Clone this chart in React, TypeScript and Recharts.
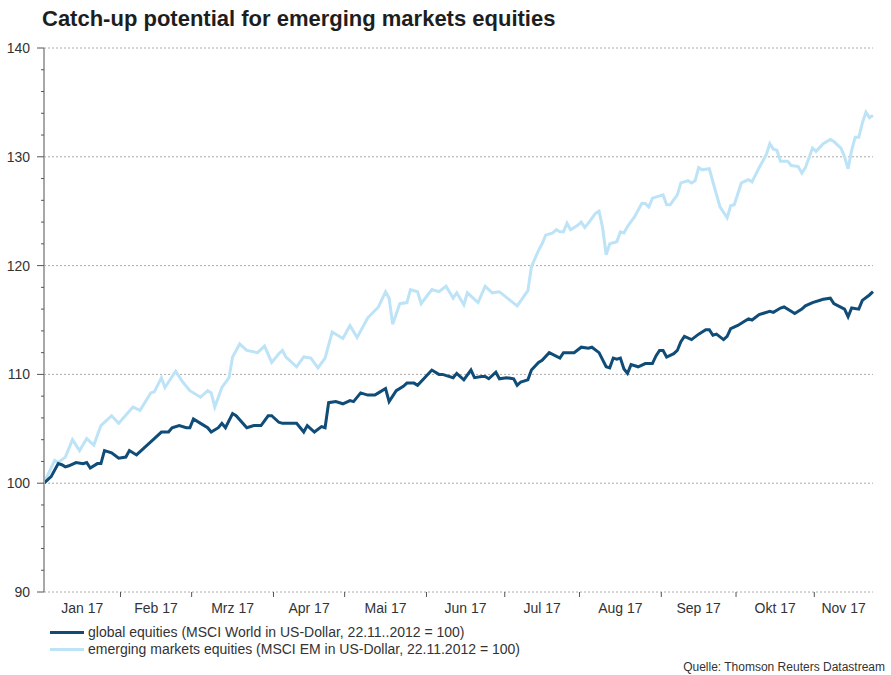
import React from "react";
import { LineChart, Line, XAxis, YAxis, ReferenceLine } from "recharts";

// x = weekday index from 2 Jan 2017 (0) to 23 Nov 2017 (233)
const monthLabels = ["Jan 17", "Feb 17", "Mrz 17", "Apr 17", "Mai 17", "Jun 17", "Jul 17", "Aug 17", "Sep 17", "Okt 17", "Nov 17"];
const monthStarts = [0, 22, 42, 65, 85, 108, 130, 151, 174, 195, 217];
const lastDay = 233;

const majorTicks = [90, 100, 110, 120, 130, 140];
const yTicks = [90, 92, 94, 96, 98, 100, 102, 104, 106, 108, 110, 112, 114, 116, 118, 120, 122, 124, 126, 128, 130, 132, 134, 136, 138, 140];

const emDays = [
  0, 3, 4, 6, 8, 10, 12, 14, 16, 19, 21, 25, 27, 30, 31, 33, 34, 37, 39, 41, 44, 46, 47, 48, 50, 52, 53, 55, 57, 60,
  62, 64, 66, 67, 68, 71, 73, 75, 77, 79, 81, 84, 86, 88, 91, 94, 96, 97, 98, 100, 102, 103, 105, 106, 109, 111, 113, 115, 116, 118,
  119, 122, 124, 126, 128, 131, 133, 136, 137, 139, 140, 141, 143, 144, 145, 146, 147, 148, 150, 151, 152, 153, 155, 156, 157, 158, 159, 160, 161, 162, 163, 164, 166, 168, 169,
  170, 171, 174, 175, 176, 178, 179, 181, 182, 183, 184, 185, 187, 188, 190, 192, 193, 194, 196, 198, 199, 201, 203, 204, 205, 206, 207, 209, 210, 212,
  213, 214, 216, 217, 219, 221, 222, 224, 225, 226, 227, 228, 229, 230, 231, 232, 233,
];
const emValues = [
  100, 102.1, 101.9, 102.4, 104, 103, 104.1, 103.5, 105.3, 106.2, 105.5, 107, 106.7, 108.3, 108.4, 109.7, 108.8, 110.3, 109.3, 108.5, 107.9, 108.5, 108.3, 107, 108.8, 109.7, 111.6, 112.8, 112.2, 112,
  112.6, 111.1, 111.9, 112.2, 111.6, 110.7, 111.6, 111.5, 110.6, 111.5, 113.9, 113.3, 114.5, 113.4, 115.2, 116.2, 117.6, 117, 114.6, 116.5, 116.6, 117.8, 117.6, 116.5, 117.8, 117.6, 118.1, 117, 117.5, 116.4,
  117.5, 116.6, 118.1, 117.5, 117.6, 116.8, 116.3, 117.7, 119.9, 121.4, 122, 122.8, 123, 123.3, 123.1, 123.1, 123.9, 123.3, 123.7, 124, 123.5, 123.9, 124.8, 125, 123.5, 121, 122, 122.1, 122.2, 123.1, 123, 123.6, 124.5, 125.7, 125.7,
  125.4, 126.2, 126.5, 125.6, 125.6, 126.5, 127.6, 127.8, 127.6, 127.8, 129, 128.8, 128.9, 127.7, 125.4, 124.4, 125.5, 125.6, 127.6, 127.9, 127.7, 129, 130.2, 131.2, 130.7, 130.6, 129.6, 129.6, 129.2, 129.1,
  128.5, 129, 130.8, 130.5, 131.2, 131.6, 131.4, 130.8, 130, 128.9, 130.6, 131.8, 131.8, 133.1, 134.1, 133.6, 133.8,
];

const worldDays = [
  0, 2, 4, 5, 6, 7, 9, 11, 12, 13, 15, 16, 17, 19, 21, 23, 24, 26, 28, 31, 33, 35, 36, 38, 40, 41, 42, 44, 46, 47,
  49, 50, 51, 53, 54, 57, 59, 61, 63, 64, 66, 67, 70, 71, 73, 74, 76, 78, 79, 80, 82, 84, 86, 87, 89, 91, 93, 94, 96, 97,
  99, 101, 102, 104, 105, 107, 109, 111, 112, 115, 116, 118, 120, 121, 123, 124, 125, 127, 128, 130, 132, 133, 134, 136, 137, 139, 140, 142, 145, 146,
  149, 151, 153, 154, 156, 158, 159, 160, 161, 162, 163, 164, 165, 167, 169, 171, 172, 173, 174, 175, 177, 178, 179, 180, 182, 184, 186, 187, 188, 189,
  191, 192, 193, 195, 197, 198, 199, 201, 202, 204, 205, 207, 208, 210, 211, 213, 214, 216, 219, 221, 222, 225, 226, 227, 229, 230, 232, 233,
];
const worldValues = [
  100, 100.6, 101.8, 101.7, 101.5, 101.6, 101.9, 101.8, 101.9, 101.4, 101.8, 101.8, 103, 102.8, 102.3, 102.4, 103, 102.6, 103.2, 104.1, 104.7, 104.7, 105.1, 105.3, 105.1, 105.1, 105.9, 105.5, 105.1, 104.7,
  105.1, 105.5, 105.1, 106.4, 106.2, 105.1, 105.3, 105.3, 106.2, 106.2, 105.6, 105.5, 105.5, 105.5, 104.7, 105.3, 104.7, 105.2, 105.1, 107.4, 107.5, 107.3, 107.6, 107.5, 108.3, 108.1, 108.1, 108.3, 108.7, 107.5,
  108.5, 108.9, 109.2, 109.2, 109, 109.7, 110.4, 110, 110, 109.7, 110.1, 109.5, 110.4, 109.7, 109.8, 109.8, 109.6, 110.2, 109.6, 109.7, 109.6, 109, 109.3, 109.5, 110.4, 111.1, 111.3, 112, 111.5, 112,
  112, 112.5, 112.4, 112.5, 112, 110.7, 110.6, 111.5, 111.4, 111.5, 110.5, 110.1, 110.9, 110.7, 111, 111, 111.7, 112.2, 112.2, 111.6, 111.9, 112.2, 113, 113.5, 113.2, 113.7, 114.1, 114.1, 113.6, 113.7,
  113.2, 113.5, 114.2, 114.5, 114.9, 115.1, 115, 115.5, 115.6, 115.8, 115.7, 116.1, 116.2, 115.8, 115.6, 116, 116.3, 116.6, 116.9, 117, 116.5, 116, 115.3, 116.1, 116, 116.8, 117.3, 117.6,
];

const worldData = worldDays.map((d, i) => ({ day: d, world: worldValues[i] }));
const emData = emDays.map((d, i) => ({ day: d, em: emValues[i] }));

// tick marks sit between months, labels in the middle of each month
const boundaryTicks = monthStarts.slice(1).map((d) => d - 0.5);
const ends = [...boundaryTicks, lastDay];
const labelTicks = monthStarts.map((d, i) => ((i === 0 ? 0 : d - 0.5) + ends[i]) / 2);
const xTicks = [...boundaryTicks, ...labelTicks].sort((a, b) => a - b);

const DARK = "#0f4c77";
const LIGHT = "#bde3f7";
const FONT = "'Liberation Sans', Arial, sans-serif";

function YTick({ x, y, payload }: any) {
  const major = payload.value % 10 === 0;
  return (
    <g>
      <line x1={x - (major ? 7 : 3)} x2={x} y1={y} y2={y} stroke="#555" strokeWidth={1} />
      {major && (
        <text x={x - 14} y={y} dy={5} textAnchor="end" fontSize={14} fill="#333" fontFamily={FONT}>
          {payload.value}
        </text>
      )}
    </g>
  );
}

function XTick({ x, y, payload }: any) {
  const b = boundaryTicks.indexOf(payload.value);
  if (b >= 0) return <line x1={x} x2={x} y1={y} y2={y + 5} stroke="#555" strokeWidth={1} />;
  const m = labelTicks.indexOf(payload.value);
  return (
    <text x={x} y={y} dy={21} textAnchor="middle" fontSize={14} fill="#333" fontFamily={FONT}>
      {monthLabels[m]}
    </text>
  );
}

export default function App() {
  return (
    <div style={{ position: "absolute", left: 0, top: 0, width: 891, height: 675, background: "#fff", fontFamily: FONT }}>
      <div style={{ position: "absolute", left: 42, top: 6, fontSize: 22, fontWeight: "bold", color: "#1e1e1e", lineHeight: "26px", whiteSpace: "nowrap" }}>
        Catch-up potential for emerging markets equities
      </div>
      <LineChart width={891} height={675} margin={{ top: 48, right: 18, left: 0, bottom: 57 }}>
        <XAxis
          type="number"
          dataKey="day"
          domain={[0, lastDay]}
          ticks={xTicks}
          interval={0}
          height={26}
          tickSize={0}
          tickMargin={0}
          tickLine={false}
          tick={<XTick />}
          axisLine={{ stroke: "#aaa", strokeDasharray: "2 2" }}
        />
        <YAxis
          type="number"
          domain={[90, 140]}
          ticks={yTicks}
          interval={0}
          width={44}
          tickSize={0}
          tickMargin={0}
          tickLine={false}
          tick={<YTick />}
          axisLine={{ stroke: "#a8a8a8", strokeWidth: 2 }}
        />
        {majorTicks.slice(1).map((v) => (
          <ReferenceLine key={v} y={v} stroke="#aaa" strokeDasharray="2 2" />
        ))}
        <Line
          data={emData}
          dataKey="em"
          type="linear"
          stroke={LIGHT}
          strokeWidth={3}
          dot={false}
          isAnimationActive={false}
        />
        <Line
          data={worldData}
          dataKey="world"
          type="linear"
          stroke={DARK}
          strokeWidth={3}
          dot={false}
          isAnimationActive={false}
        />
      </LineChart>
      <div style={{ position: "absolute", left: 50, top: 624, fontSize: 14, color: "#333", lineHeight: "17px" }}>
        <div style={{ display: "flex", alignItems: "center" }}>
          <span style={{ display: "inline-block", width: 34, height: 3, background: DARK, marginRight: 4 }} />
          global equities (MSCI World in US-Dollar, 22.11..2012 = 100)
        </div>
        <div style={{ display: "flex", alignItems: "center" }}>
          <span style={{ display: "inline-block", width: 34, height: 3, background: LIGHT, marginRight: 4 }} />
          emerging markets equities (MSCI EM in US-Dollar, 22.11.2012 = 100)
        </div>
      </div>
      <div style={{ position: "absolute", right: 6, top: 660, fontSize: 12, color: "#333", lineHeight: "14px" }}>
        Quelle: Thomson Reuters Datastream
      </div>
    </div>
  );
}
